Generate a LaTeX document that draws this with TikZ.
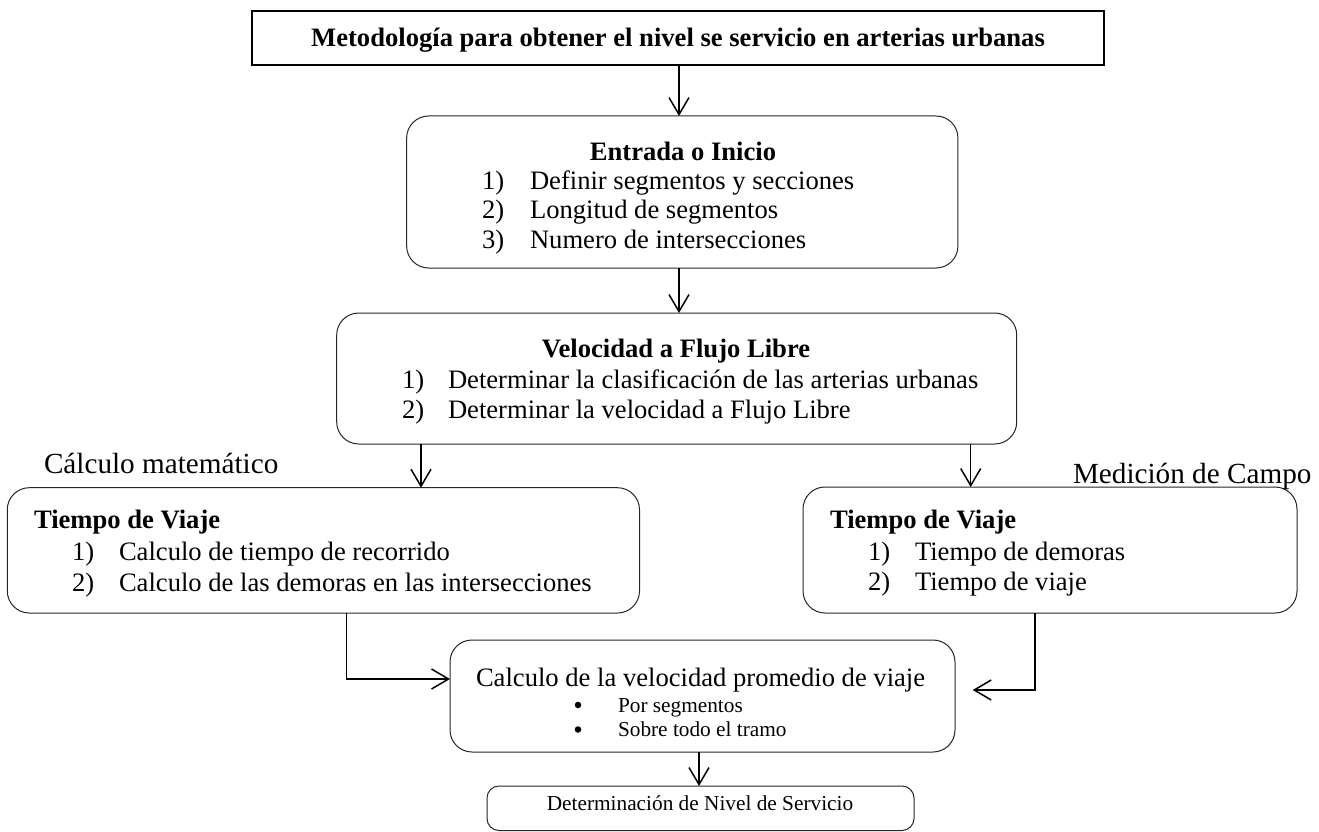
\documentclass[tikz,border=0pt]{standalone}
\usepackage{fontspec}
\setmainfont{Liberation Serif}
\usetikzlibrary{arrows.meta}
\begin{document}
\begin{tikzpicture}[x=1pt,y=-1pt,
  sqbox/.style={draw, line width=1.3pt, inner sep=0pt, outer sep=0pt},
  rbox/.style={draw=black!85, line width=1pt, rounded corners=22pt, inner sep=0pt, outer sep=0pt},
  body/.style={inner sep=0pt, outer sep=0pt, anchor=base west, font=\fontsize{26.6}{30}\selectfont},
  bodyc/.style={body, anchor=base},
  head/.style={body, font=\fontsize{26.6}{30}\selectfont\bfseries},
  headc/.style={head, anchor=base},
  small/.style={inner sep=0pt, outer sep=0pt, anchor=base west, font=\fontsize{21.3}{24}\selectfont},
  smallc/.style={small, anchor=base},
  bul/.style={circle, fill, inner sep=0pt, outer sep=0pt, minimum size=6.5pt},
  lab/.style={inner sep=0pt, outer sep=0pt, anchor=base west, font=\fontsize{29.2}{33}\selectfont},
  arr/.style={draw, line width=1.5pt, -{Straight Barb[length=17pt,width=20pt]}}
]
\useasboundingbox (0,0) rectangle (1319,832);

% column / row helper coordinates
\coordinate (xa) at (679,0);
\coordinate (xl) at (421,0);
\coordinate (xr) at (970.7,0);
\coordinate (xb) at (699,0);
\coordinate (xls) at (346.7,0);
\coordinate (xrs) at (1035,0);
\coordinate (yl) at (0,679);
\coordinate (rend) at (972.7,690);

% boxes
\node[sqbox, minimum width=852pt, minimum height=54pt] (top) at (678,38) {};
\node[rbox, minimum width=551.3pt, minimum height=152pt] (ent) at (682.3,192) {};
\node[rbox, minimum width=680pt, minimum height=131pt] (vel) at (676.7,378.5) {};
\node[rbox, minimum width=632.2pt, minimum height=125.3pt] (lt) at (323.4,550.35) {};
\node[rbox, minimum width=494pt, minimum height=126pt] (rt) at (1050,550) {};
\node[rbox, minimum width=505pt, minimum height=112pt] (calc) at (702.5,696) {};
\node[rbox, rounded corners=12pt, minimum width=427pt, minimum height=44.5pt] (niv) at (700.5,808.25) {};

% texts
\node[headc] (ttop) at (678,46.7) {Metodología para obtener el nivel se servicio en arterias urbanas};

\node[headc] (tent) at (683,160) {Entrada o Inicio};
\node[body] (e1n) at (482,189) {1)};
\node[body] (e1) at (530,189) {Definir segmentos y secciones};
\node[body] (e2n) at (482,218.5) {2)};
\node[body] (e2) at (530,218.5) {Longitud de segmentos};
\node[body] (e3n) at (482,248) {3)};
\node[body] (e3) at (530,248) {Numero de intersecciones};

\node[headc] (tvel) at (676,357.5) {Velocidad a Flujo Libre};
\node[body] (v1n) at (402,388) {1)};
\node[body] (v1) at (448,388) {Determinar la clasificación de las arterias urbanas};
\node[body] (v2n) at (402,418) {2)};
\node[body] (v2) at (448,418) {Determinar la velocidad a Flujo Libre};

\node[lab] (lcm) at (44,473) {Cálculo matemático};
\node[lab] (lmc) at (1073,483) {Medición de Campo};

\node[head] (tlt) at (34,528) {Tiempo de Viaje};
\node[body] (l1n) at (72,560) {1)};
\node[body] (l1) at (119,560) {Calculo de tiempo de recorrido};
\node[body] (l2n) at (72,591) {2)};
\node[body] (l2) at (119,591) {Calculo de las demoras en las intersecciones};

\node[head] (trt) at (830,528) {Tiempo de Viaje};
\node[body] (r1n) at (868,560) {1)};
\node[body] (r1) at (915,560) {Tiempo de demoras};
\node[body] (r2n) at (868,590) {2)};
\node[body] (r2) at (915,590) {Tiempo de viaje};

\node[body] (tcalc) at (476,686) {Calculo de la velocidad promedio de viaje};
\node[bul] (b1) at (578,705) {};
\node[small] (c1) at (618,712) {Por segmentos};
\node[bul] (b2) at (578,729.5) {};
\node[small] (c2) at (618,736.5) {Sobre todo el tramo};

\node[smallc] (tniv) at (700,810) {Determinación de Nivel de Servicio};

% connectors
\draw[arr] (top.south -| xa) -- (ent.north -| xa);
\draw[arr] (ent.south -| xa) -- (vel.north -| xa);
\draw[arr] (vel.south -| xl) -- (lt.north -| xl);
\draw[arr] (vel.south -| xr) -- (rt.north -| xr);
\draw[arr] (lt.south -| xls) |- (calc.west |- yl);
\draw[arr] (rt.south -| xrs) |- (rend);
\draw[arr] (calc.south -| xb) -- (niv.north -| xb);
\end{tikzpicture}
\end{document}
